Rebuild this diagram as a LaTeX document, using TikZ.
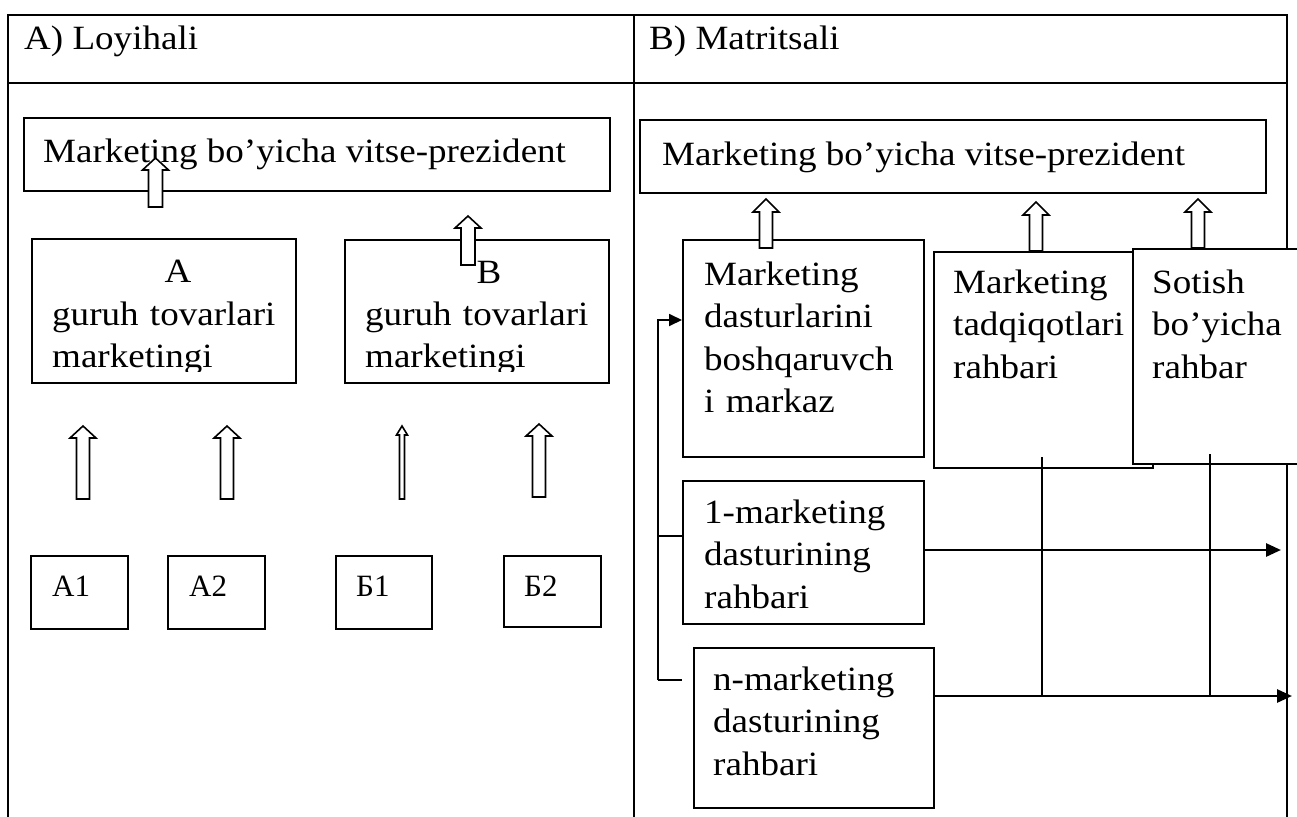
\documentclass[tikz,border=0pt]{standalone}
\usepackage{fontspec}
\setmainfont[FakeStretch=1.09]{Liberation Serif}
\newfontfamily\cellfont{Liberation Serif}
\usetikzlibrary{arrows.meta}

\newcommand{\blockup}[6]{%
  \draw[blockarrow] (#1-#4,#3) -- (#1-#4,#2+#6) -- (#1-#5,#2+#6) -- (#1,#2)
    -- (#1+#5,#2+#6) -- (#1+#4,#2+#6) -- (#1+#4,#3) -- cycle;}

\begin{document}
\begin{tikzpicture}[x=1pt,y=-1pt,
    frame/.style={line width=2.5pt},
    box/.style={draw, line width=1.8pt, fill=white, inner sep=0pt, anchor=north west},
    txt/.style={anchor=base west, inner sep=0pt, font=\fontsize{34}{42.5}\selectfont},
    lines/.style={txt, text width=300pt, align=left},
    cell/.style={anchor=base west, inner sep=0pt, font=\cellfont\fontsize{31}{36}\selectfont},
    blockarrow/.style={line width=1.6pt, fill=white},
    link/.style={line width=1.8pt},
    hline/.style={line width=2.7pt, -{Triangle[length=15pt,width=13pt]}},
    vline/.style={line width=1.5pt}]
    \useasboundingbox (0,0) rectangle (1297,816);
    \clip (0,0) rectangle (1297,816);

    \draw[frame] (8,840) -- (8,15) -- (1287,15) -- (1287,840);
    \draw[frame] (8,83) -- (1287,83);
    \draw[frame] (634,15) -- (634,840);
    \node[txt] (hleft) at (24,49) {A) Loyihali};
    \node[txt] (hright) at (649,50) {B) Matritsali};

    \begin{scope}
      \node[box, minimum width=586pt, minimum height=73pt] (vpa) at (23,117) {};
      \node[txt] (vpatext) at (43,162) {Marketing bo’yicha vitse-prezident};
      \node[box, minimum width=264pt, minimum height=144pt] (gra) at (31,238) {};
      \node[box, minimum width=264pt, minimum height=143pt] (grb) at (344,239) {};
      \node[txt, anchor=base] (gratitle) at (178,282) {A};
      \node[txt, anchor=base] (grbtitle) at (489,283) {B};
      \begin{scope}
        \clip (31,238) rectangle (295,371);
        \node[lines] (gratext) at (52,325) {guruh tovarlari\\marketingi};
      \end{scope}
      \begin{scope}
        \clip (344,239) rectangle (608,371);
        \node[lines] (grbtext) at (365,325) {guruh tovarlari\\marketingi};
      \end{scope}
      \node[box, minimum width=97pt, minimum height=73pt] (a1) at (30,555) {};
      \node[box, minimum width=97pt, minimum height=73pt] (a2) at (167,555) {};
      \node[box, minimum width=96pt, minimum height=73pt] (b1) at (335,555) {};
      \node[box, minimum width=97pt, minimum height=71pt] (b2) at (503,555) {};
      \node[cell] (a1text) at (52,596) {А1};
      \node[cell] (a2text) at (189,596) {А2};
      \node[cell] (b1text) at (356,596) {Б1};
      \node[cell] (b2text) at (524,596) {Б2};
      \blockup{155.5}{158}{207}{7}{13}{12}
      \blockup{468}{216}{265}{7}{13}{12}
      \blockup{83}{426}{499}{6.5}{13}{12}
      \blockup{227}{426}{499}{6.5}{13}{12}
      \blockup{402}{426}{499}{2.5}{5.5}{9}
      \blockup{539}{424}{497}{6.5}{13}{12}
    \end{scope}

    \begin{scope}
      \node[box, minimum width=626pt, minimum height=73pt] (vpb) at (639,119) {};
      \node[txt] (vpbtext) at (662,165) {Marketing bo’yicha vitse-prezident};
      \node[box, minimum width=241pt, minimum height=217pt] (mdb) at (682,239) {};
      \node[box, minimum width=219pt, minimum height=216pt] (mt) at (933,251) {};
      \node[box, minimum width=200pt, minimum height=215pt] (st) at (1132,248) {};
      \node[box, minimum width=241pt, minimum height=143pt] (m1) at (682,480) {};
      \node[box, minimum width=240pt, minimum height=160pt] (mn) at (693,647) {};
      \node[lines] (mdbtext) at (704,285) {Marketing\\dasturlarini\\boshqaruvch\\i markaz};
      \node[lines] (mttext) at (953,293) {Marketing\\tadqiqotlari\\rahbari};
      \node[lines] (sttext) at (1152,293) {Sotish\\bo’yicha\\rahbar};
      \node[lines] (m1text) at (704,523) {1-marketing\\dasturining\\rahbari};
      \node[lines] (mntext) at (713,690) {n-marketing\\dasturining\\rahbari};

      \coordinate (bustop) at (658,320);
      \coordinate (busmid) at (658,536);
      \coordinate (busbot) at (658,680);
      \coordinate (busend) at (682,680);
      \draw[link, -{Triangle[length=13pt,width=12pt]}] (busbot) -- (bustop) -- (bustop -| mdb.west);
      \draw[link] (busmid) -- (busmid -| m1.west);
      \draw[link] (busbot) -- (busend);

      \coordinate (row1end) at (1281,550);
      \coordinate (rownend) at (1292,696);
      \coordinate (col1top) at (1042,457);
      \coordinate (col2top) at (1210,454);
      \draw[vline] (col1top) -- (col1top |- rownend);
      \draw[vline] (col2top) -- (col2top |- rownend);
      \draw[hline] (row1end -| m1.east) -- (row1end);
      \draw[hline] (rownend -| mn.east) -- (rownend);

      \blockup{766}{199}{248}{6.5}{13}{13}
      \blockup{1036}{202}{251}{6.5}{13}{13}
      \blockup{1198}{199}{248}{6.5}{13}{13}
    \end{scope}
\end{tikzpicture}
\end{document}
